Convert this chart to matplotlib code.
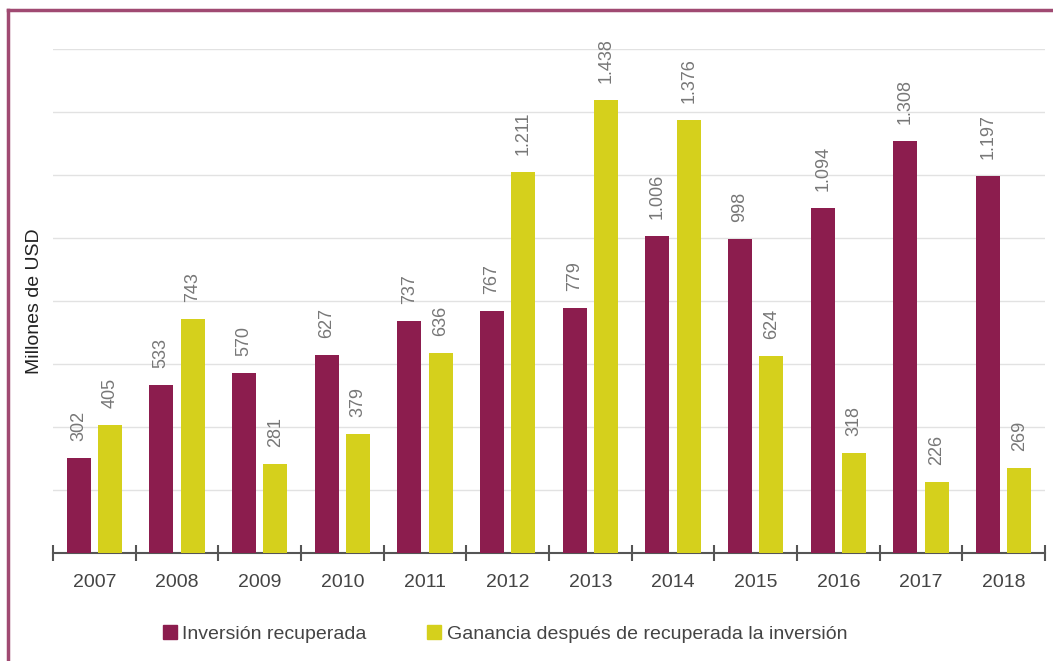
import matplotlib.pyplot as plt
import numpy as np
from matplotlib.patches import Patch
from matplotlib.lines import Line2D

plt.rcParams['font.family'] = ['Liberation Sans', 'DejaVu Sans']

years = ['2007', '2008', '2009', '2010', '2011', '2012',
         '2013', '2014', '2015', '2016', '2017', '2018']
inversion = [302, 533, 570, 627, 737, 767, 779, 1006, 998, 1094, 1308, 1197]
ganancia = [405, 743, 281, 379, 636, 1211, 1438, 1376, 624, 318, 226, 269]
series_names = ['Inversión recuperada',
                'Ganancia después de recuperada la inversión']

maroon = '#8c1d4e'
yellow = '#d5d01c'

def fmt(v):
    return f'{v:,}'.replace(',', '.')

fig = plt.figure(figsize=(10.53, 6.61), dpi=100)
ax = fig.add_axes([53 / 1053, 108 / 661, 992 / 1053, 504 / 661])

x = np.arange(len(years))
w = 0.29
b1 = ax.bar(x - 0.19, inversion, w, color=maroon, zorder=3)
b2 = ax.bar(x + 0.19, ganancia, w, color=yellow, zorder=3)

# value labels, rotated
for bars, vals in ((b1, inversion), (b2, ganancia)):
    for r, v in zip(bars, vals):
        ax.annotate(fmt(v), (r.get_x() + r.get_width() / 2, v),
                    xytext=(0, 17), textcoords='offset pixels',
                    rotation=90, ha='center', va='bottom',
                    fontsize=13, color='#777777', annotation_clip=False)

ax.set_xlim(-0.5, len(years) - 0.5)
ax.set_ylim(0, 1600)
ax.set_yticks(np.arange(200, 1601, 200))
ax.set_yticklabels([])
ax.tick_params(axis='y', length=0)
ax.grid(axis='y', color='#e2e2e2', linewidth=1, zorder=0)

ax.set_xticks(x)
ax.set_xticklabels(years, fontsize=14, color='#444444')
ax.tick_params(axis='x', length=0, pad=15)
ax.set_xticks(np.arange(-0.5, len(years), 1), minor=True)
ax.tick_params(axis='x', which='minor', length=12, direction='inout',
               color='#555555', width=1.5)

for s in ['top', 'right', 'left']:
    ax.spines[s].set_visible(False)
ax.spines['bottom'].set_color('#555555')
ax.spines['bottom'].set_linewidth(1.5)

fig.text(35 / 1053, 1 - 301 / 661, 'Millones de USD', rotation=90,
         ha='center', va='center', fontsize=14, color='#222222')

handles = [Patch(color=maroon), Patch(color=yellow)]
fig.legend(handles, series_names, loc='center', ncol=2,
           bbox_to_anchor=(505 / 1053, 1 - 634 / 661), frameon=False,
           fontsize=14, handlelength=0.7, handleheight=0.7,
           handletextpad=0.3, columnspacing=3.1, labelcolor='#444444')

# outer frame
fig.add_artist(Line2D([8 / 1053, 8 / 1053], [0, 1 - 10 / 661],
                      transform=fig.transFigure, color='#a04a72', lw=2.5))
fig.add_artist(Line2D([8 / 1053, 1], [1 - 10 / 661, 1 - 10 / 661],
                      transform=fig.transFigure, color='#a04a72', lw=2.5))

fig.savefig('out.png', dpi=100)
